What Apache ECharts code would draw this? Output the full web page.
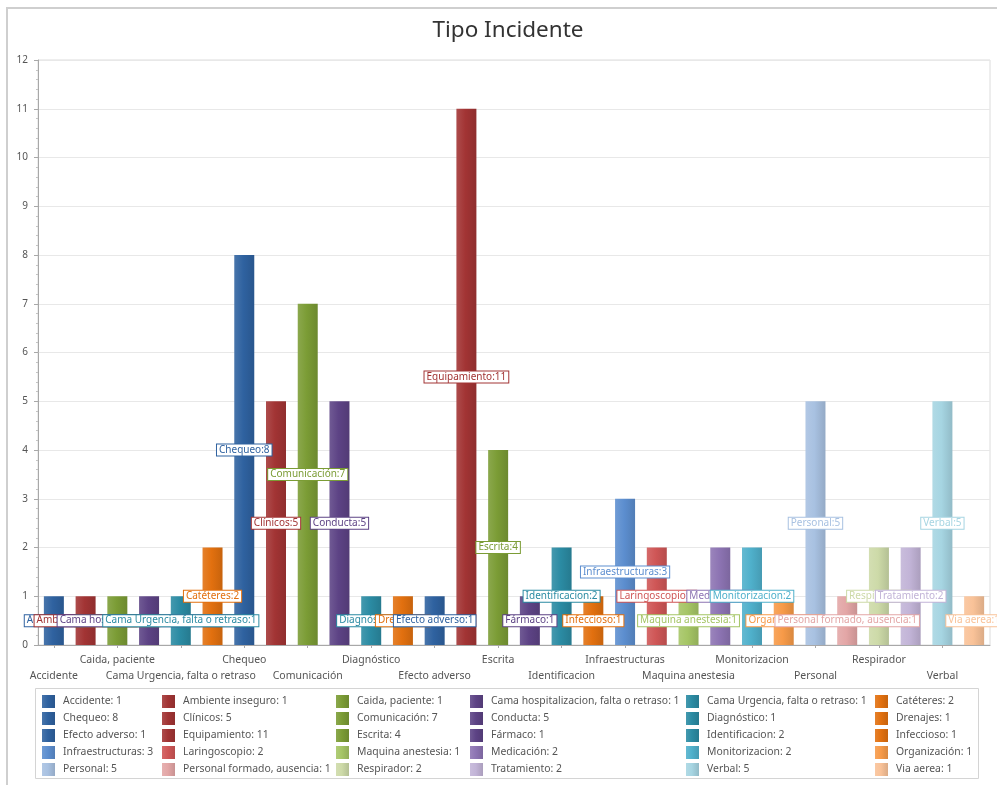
<!DOCTYPE html>
<html>
<head>
<meta charset="utf-8">
<title>Tipo Incidente</title>
<script src="https://cdn.jsdelivr.net/npm/echarts@6/dist/echarts.min.js"></script>
<style>
  html, body { margin: 0; padding: 0; background: #fff; }
  #chart { width: 997px; height: 785px; }
</style>
</head>
<body>
<div id="chart"></div>
<script>
// Incident types and their counts
const categories = [
  'Accidente', 'Ambiente inseguro', 'Caida, paciente', 'Cama hospitalizacion, falta o retraso',
  'Cama Urgencia, falta o retraso', 'Catéteres',
  'Chequeo', 'Clínicos', 'Comunicación', 'Conducta', 'Diagnóstico', 'Drenajes',
  'Efecto adverso', 'Equipamiento', 'Escrita', 'Fármaco', 'Identificacion', 'Infeccioso',
  'Infraestructuras', 'Laringoscopio', 'Maquina anestesia', 'Medicación', 'Monitorizacion', 'Organización',
  'Personal', 'Personal formado, ausencia', 'Respirador', 'Tratamiento', 'Verbal', 'Via aerea'
];
const values = [
  1, 1, 1, 1, 1, 2,
  8, 5, 7, 5, 1, 1,
  1, 11, 4, 1, 2, 1,
  3, 2, 1, 2, 2, 1,
  5, 1, 2, 2, 5, 1
];
const yTicks = [0, 1, 2, 3, 4, 5, 6, 7, 8, 9, 10, 11, 12];

// Six-hue palette, darker shades first then lighter ones
const palette = [
  '#2f62a0', '#a23434', '#7b9c35', '#5d4385', '#2b8ba3', '#e2700f',
  '#2f62a0', '#a23434', '#7b9c35', '#5d4385', '#2b8ba3', '#e2700f',
  '#2f62a0', '#a23434', '#7b9c35', '#5d4385', '#2b8ba3', '#e2700f',
  '#5c8ecf', '#cf5656', '#a5c565', '#8d74b3', '#4fb0cb', '#f79a48',
  '#a8c1e1', '#e3a6a6', '#cddaa8', '#c2b4d7', '#a6d5e2', '#f9c298'
];

function mix(hex, target, t) {
  const c = parseInt(hex.slice(1), 16);
  const r = (c >> 16) & 255, g = (c >> 8) & 255, b = c & 255;
  const m = v => Math.round(v + (target - v) * t);
  return 'rgb(' + m(r) + ',' + m(g) + ',' + m(b) + ')';
}
function barFill(hex) {
  return {
    type: 'linear', x: 0, y: 0, x2: 1, y2: 0,
    colorStops: [
      { offset: 0, color: mix(hex, 255, 0.12) },
      { offset: 0.45, color: hex },
      { offset: 1, color: mix(hex, 0, 0.12) }
    ]
  };
}

const FONT = 'Noto Sans';

// One series per incident type, each occupying only its own category slot
const series = categories.map((name, i) => ({
  name: name,
  type: 'bar',
  stack: 'total',
  barWidth: 20,
  data: categories.map((_, j) => (j === i ? values[i] : '-')),
  itemStyle: { color: barFill(palette[i]) },
  label: {
    show: true,
    position: 'inside',
    formatter: p => p.seriesName + ':' + p.value,
    fontFamily: FONT,
    fontSize: 10,
    color: palette[i],
    backgroundColor: '#fff',
    borderColor: palette[i],
    borderWidth: 1,
    padding: [1, 2, 0, 2]
  },
  labelLayout: { hideOverlap: false }
}));

// Legend arranged as six columns of five entries
const legendLeft = [42, 162, 336, 470, 686, 875];
const legends = legendLeft.map((x, col) => ({
  orient: 'vertical',
  left: x,
  top: 695,
  padding: 0,
  itemWidth: 13,
  itemHeight: 13,
  itemGap: 4,
  icon: 'rect',
  selectedMode: false,
  data: categories.filter((_, i) => i % 6 === col),
  formatter: name => name + ': ' + values[categories.indexOf(name)],
  textStyle: { fontFamily: FONT, fontSize: 10.4, color: '#555', padding: [0, 0, 0, 3] }
}));

const chart = echarts.init(document.getElementById('chart'), null, { renderer: 'canvas' });
chart.setOption({
  backgroundColor: '#fff',
  animation: false,
  title: {
    text: 'Tipo Incidente',
    left: 503,
    top: 14,
    textAlign: 'center',
    textStyle: { fontFamily: FONT, fontSize: 22.5, fontWeight: 'normal', color: '#333' }
  },
  graphic: [
    { type: 'rect', shape: { x: 7, y: 8, width: 1000, height: 790 }, style: { fill: 'none', stroke: '#cfcfcf', lineWidth: 2 }, silent: true, z: -1 },
    { type: 'rect', shape: { x: 35.5, y: 688.5, width: 943, height: 90 }, style: { fill: 'none', stroke: '#d4d4d4', lineWidth: 1 }, silent: true, z: -1 }
  ],
  legend: legends,
  grid: {
    left: 38, right: 7, top: 60, bottom: 140,
    show: true, borderColor: '#dcdcdc', borderWidth: 1
  },
  xAxis: {
    type: 'category',
    data: categories,
    axisLine: { lineStyle: { color: '#a8a8a8' } },
    axisTick: { show: true, alignWithLabel: true, length: 3, lineStyle: { color: '#a8a8a8' } },
    axisLabel: {
      interval: 1,
      margin: 7,
      fontFamily: FONT,
      fontSize: 10.5,
      lineHeight: 16,
      color: '#555',
      formatter: (value, idx) => (idx % 4 === 0 ? '\n' + value : value)
    }
  },
  yAxis: {
    type: 'value',
    min: yTicks[0],
    max: yTicks[yTicks.length - 1],
    interval: 1,
    axisLine: { show: true, lineStyle: { color: '#a8a8a8' } },
    axisTick: { show: true, length: 4, lineStyle: { color: '#a8a8a8' } },
    minorTick: { show: true, splitNumber: 5, length: 2, lineStyle: { color: '#c4c4c4' } },
    splitLine: { lineStyle: { color: '#e8e8e8' } },
    axisLabel: { fontFamily: FONT, fontSize: 10, color: '#555', margin: 10 }
  },
  series: series
});
</script>
</body>
</html>
